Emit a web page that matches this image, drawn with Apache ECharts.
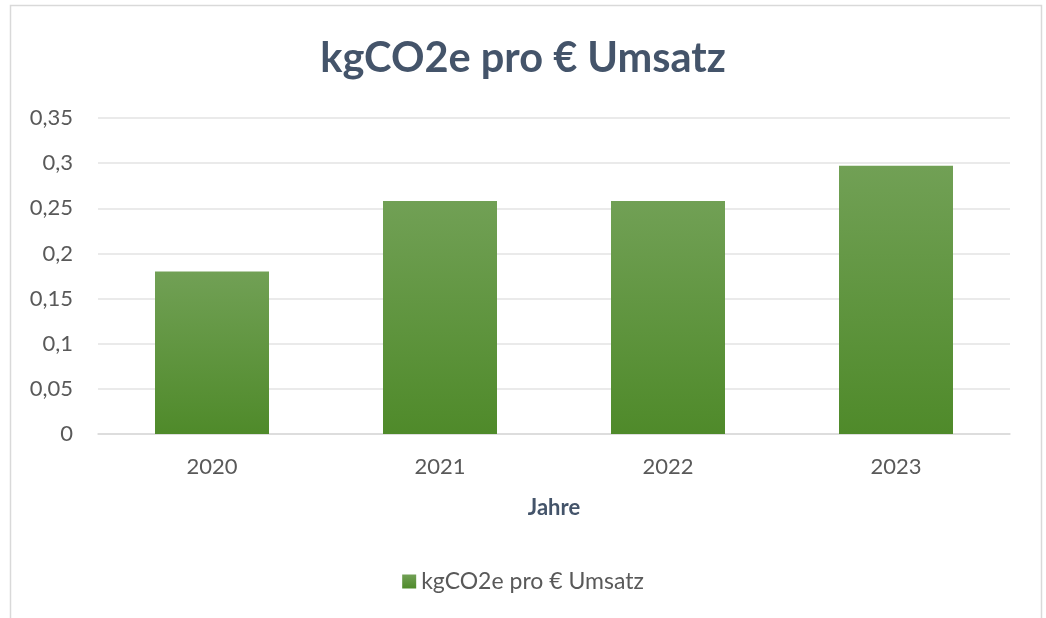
<!DOCTYPE html>
<html><head><meta charset="utf-8">
<script src="https://cdn.jsdelivr.net/npm/echarts@6/dist/echarts.min.js"></script>
<style>html,body{margin:0;padding:0;background:#fff}#c{width:1046px;height:618px}</style>
</head><body><div id="c"></div>
<script>
const categories = ['2020', '2021', '2022', '2023'];
const values = [0.18, 0.258, 0.258, 0.297];
const seriesName = 'kgCO2e pro € Umsatz';
const titleText = 'kgCO2e pro € Umsatz';
const xAxisName = 'Jahre';

const chart = echarts.init(document.getElementById('c'));
const FONT = 'Lato';
chart.setOption({
  animation: false,
  backgroundColor: '#ffffff',
  graphic: [{
    type: 'rect', silent: true, z: -10,
    shape: { x: 10.5, y: 5.5, width: 1031, height: 700 },
    style: { fill: 'none', stroke: '#d9d9d9', lineWidth: 1.5 }
  }],
  title: {
    text: titleText, left: 'center', top: 33,
    textStyle: { fontFamily: FONT, fontWeight: 'bold', fontSize: 41.5, color: '#44546a' }
  },
  legend: {
    bottom: 20, left: 'center', itemWidth: 14, itemHeight: 14, itemGap: 6,
    icon: 'rect',
    textStyle: { fontFamily: FONT, fontSize: 23, color: '#595959' },
    data: [seriesName]
  },
  grid: { left: 98, right: 36, top: 118, bottom: 184, containLabel: false },
  xAxis: {
    type: 'category', data: categories,
    name: xAxisName, nameLocation: 'middle', nameGap: 63,
    nameTextStyle: { fontFamily: FONT, fontWeight: 'bold', fontSize: 22, color: '#44546a' },
    axisLine: { show: true, lineStyle: { color: '#d9d9d9', width: 1.5 } },
    axisTick: { show: false },
    axisLabel: { fontFamily: FONT, fontSize: 22, color: '#595959', margin: 22 }
  },
  yAxis: {
    type: 'value', min: 0, max: 0.35, interval: 0.05,
    axisLine: { show: false }, axisTick: { show: false },
    splitLine: { lineStyle: { color: '#e3e3e3', width: 1.5 } },
    axisLabel: {
      fontFamily: FONT, fontSize: 22, color: '#595959', margin: 25,
      formatter: v => String(+v.toFixed(2)).replace('.', ',')
    }
  },
  series: [{
    name: seriesName, type: 'bar', data: values, barWidth: '50%',
    itemStyle: {
      color: new echarts.graphic.LinearGradient(0, 0, 0, 1, [
        { offset: 0, color: '#71a055' },
        { offset: 1, color: '#4f8a2a' }
      ])
    }
  }]
});
</script></body></html>
